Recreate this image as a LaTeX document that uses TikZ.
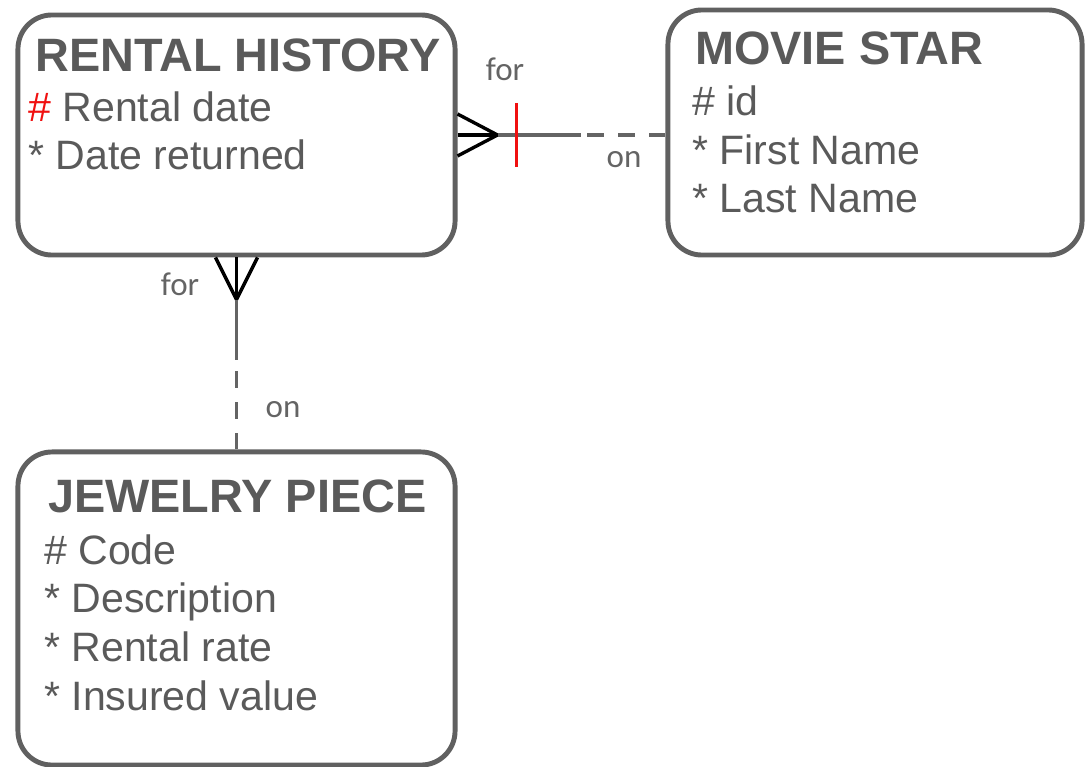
\documentclass[tikz,border=0pt]{standalone}
\usepackage{fontspec}
\setmainfont{Liberation Sans}
\newfontfamily\labelfont{Carlito}
\usetikzlibrary{positioning}
\definecolor{boxgray}{HTML}{606060}
\definecolor{textgray}{HTML}{5A5A5A}
\definecolor{linegray}{HTML}{646464}
\definecolor{keyred}{HTML}{F01010}

\begin{document}
\begin{tikzpicture}[x=0.025cm, y=-0.025cm,
    entity/.style={draw=boxgray, line width=3.5pt, rounded corners=0.85cm, inner sep=0pt},
    title/.style={anchor=base west, inner sep=0pt, text=textgray, font=\fontsize{33.3}{38}\selectfont\bfseries},
    attrs/.style={anchor=base west, inner sep=0pt, align=left, text=textgray, font=\fontsize{29.2}{34.5}\selectfont},
    rel/.style={draw=linegray, line width=2.8pt},
    optional/.style={rel, dash pattern=on 12pt off 10pt},
    crowfoot/.style={draw=black, line width=2.4pt},
    onebar/.style={draw=keyred, line width=2.7pt},
    lbl/.style={text=linegray, inner sep=0pt, font=\labelfont\fontsize{23.5}{27}\selectfont}
  ]
  \useasboundingbox (0,0) rectangle (1086,767);

  % entities
  \node[entity, minimum width=10.925cm, minimum height=6cm] (RH) at (236.5,135) {};
  \node[entity, minimum width=10.35cm, minimum height=6.125cm] (MS) at (875,132.5) {};
  \node[entity, minimum width=10.925cm, minimum height=7.825cm] (JP) at (236.5,608.5) {};

  % base = last line of the attribute list
  \node[title] (RHtitle) at (35,72) {RENTAL HISTORY};
  \node[attrs] (RHattrs) at (28,170) {{\color{keyred}\#} Rental date\\* Date returned};

  \node[title] (MStitle) at (695,65) {MOVIE STAR};
  \node[attrs] (MSattrs) at (692,213) {\# id\\* First Name\\* Last Name};

  \node[title] (JPtitle) at (48,512) {JEWELRY PIECE};
  \node[attrs] (JPattrs) at (44,710) {\# Code\\* Description\\* Rental rate\\* Insured value};

  % rental history -- movie star
  \coordinate (hfoot) at ([xshift=1cm]RH.east);
  \coordinate (hend) at ([xshift=3.075cm]RH.east);
  \draw[crowfoot] ([yshift=0.525cm]RH.east) -- (hfoot) -- ([yshift=-0.525cm]RH.east);
  \draw[crowfoot] (RH.east) -- (hfoot);
  \draw[rel] (hfoot) -- (hend);
  \draw[optional] (RH.east -| MS.west) -- (hend);
  \draw[onebar] ([xshift=1.475cm, yshift=0.8cm]RH.east) -- ([xshift=1.475cm, yshift=-0.8cm]RH.east);
  \node[lbl] (hfor) at (505,69) {for};
  \node[lbl] (hon) at (624,160) {on};

  % rental history -- jewelry piece
  \coordinate (vfoot) at ([yshift=-1.05cm]RH.south);
  \coordinate (vend) at ([yshift=-2.55cm]RH.south);
  \draw[crowfoot] ([xshift=-0.525cm]RH.south) -- (vfoot) -- ([xshift=0.525cm]RH.south);
  \draw[crowfoot] (RH.south) -- (vfoot);
  \draw[rel] (vfoot) -- (vend);
  \draw[optional] (JP.north) -- (vend);
  \node[lbl] (vfor) at (180,284) {for};
  \node[lbl] (von) at (283,410) {on};
\end{tikzpicture}
\end{document}
